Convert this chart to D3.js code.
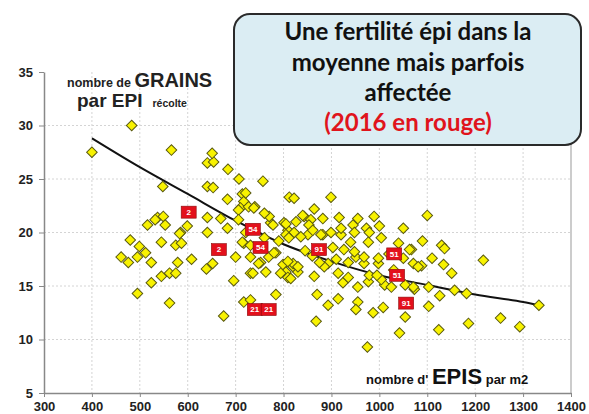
<!DOCTYPE html>
<html>
<head>
<meta charset="utf-8">
<script src="https://cdn.jsdelivr.net/npm/d3@7"></script>
<style>
  body { margin: 0; background: #fff; }
  svg { display: block; font-family: "Liberation Sans", Arial, sans-serif; }
</style>
</head>
<body>
<div class="chart"></div>
<script>
// data
const xTicks = [300, 400, 500, 600, 700, 800, 900, 1000, 1100, 1200, 1300, 1400];
const yTicks = [5, 10, 15, 20, 25, 30, 35];

// yellow diamonds: [epis par m2, grains par epi]
const pointsOther = [
  [400,27.5],[483,30.0],[566,27.7],[548,24.3],
  [641,26.5],[654,26.6],[651,27.4],[684,25.9],[707,25.0],[757,24.8],
  [641,24.3],[653,24.2],[683,23.1],[714,23.6],[717,22.9],[710,22.3],[727,22.4],[740,22.4],[706,22.1],
  [812,23.3],[822,23.2],[899,23.3],
  [537,21.4],[549,21.5],[516,20.7],[532,21.2],[553,20.7],[599,20.6],[585,20.0],[641,21.4],[669,21.3],[683,20.4],[706,21.2],[641,20.0],
  [480,19.3],[499,18.7],[461,17.7],[476,17.2],[495,17.7],[512,18.1],[524,17.2],[545,19.1],[575,18.8],[587,19.0],[583,19.9],
  [579,17.2],[608,17.5],[545,15.9],[562,16.2],[575,16.2],[524,15.3],[495,14.3],[562,13.4],[639,16.6],[652,17.1],[700,17.7],
  [696,15.5],[675,12.2],[717,19.0],[717,13.5],
  [721,20.0],[714,19.1],[731,18.8],[773,20.9],[784,18.1],[769,17.7],[731,17.7],[752,17.2],[731,16.2],[763,16.3],[799,17.0],
  [805,16.3],[820,16.8],[830,16.3],[809,20.2],[822,20.0],[731,13.7],[784,14.2],
  [721,23.7],[738,22.3],[864,22.2],[843,21.5],[882,21.3],[916,21.4],[955,21.3],[989,21.5],[1050,20.4],[778,20.7],[801,20.9],
  [826,21.0],[857,21.2],[1100,21.6],
  [805,19.8],[851,19.8],[882,19.8],[920,19.8],[977,19.1],[1004,19.5],[780,18.1],[748,17.1],[794,16.2],[820,17.1],[809,15.8],
  [736,16.2],[893,17.1],[914,16.2],[935,17.2],[951,17.7],[968,17.1],[998,17.1],[924,15.3],[955,14.9],[977,15.4],[1011,15.1],
  [870,14.2],[914,13.8],[893,13.2],[955,13.5],[951,12.8],[987,12.5],[1008,13.0],[868,11.7],[1042,10.6],[975,9.3],
  [1067,18.4],[1071,17.1],[1088,16.9],[1130,18.8],[1136,18.5],[1217,17.4],[1134,17.0],[1151,16.2],[1054,15.1],[1073,14.7],
  [1157,14.6],[1182,14.3],[1126,14.1],[1103,13.1],[1054,12.1],[1333,13.2],[1186,11.5],[1253,12.0],[1293,11.2],[1124,10.9],
  [840,21.6],[805,20.8],[853,20.7],[920,20.4],[945,20.7],[973,20.4],[979,20.0],[948,20.0],[899,20.0],[878,19.8],[861,20.2],
  [811,19.5],[836,19.6],[903,18.6],[926,18.4],[948,18.2],[968,17.7],[998,17.6],[1063,18.4],[1050,17.6],[1081,16.8],[809,17.3],
  [830,16.8],[885,16.8],[935,15.8],[979,16.0],[1004,15.6],[1025,14.9],[1071,14.9],[1103,14.9],[864,15.9],[815,15.7],
  [760,19.5],[790,19.2],[845,18.3],[860,17.8],[875,17.2],[910,17.5],[1020,18.0],[1030,16.5],[1090,19.2],[1110,17.6],
  [1000,20.6],[1040,19.0],[995,16.0],[940,19.1],[770,21.5],[760,21.8]
];

// 2016 in red: [epis, grains, label]
const points2016 = [
  [602,21.9,'2'],[665,18.4,'2'],[736,20.3,'54'],[752,18.6,'54'],[740,12.8,'21'],[769,12.8,'21'],
  [874,18.4,'91'],[1031,18.0,'51'],[1037,16.0,'51'],[1056,13.4,'91']
];

// trend curve
const trend = [
  [400,28.8],[500,26.1],[600,23.6],[700,21.1],[800,18.9],[900,17.3],[1000,16.0],
  [1100,15.1],[1200,14.2],[1300,13.5],[1333,13.2]
];

const titleLines = ['Une fertilité épi dans la', 'moyenne mais parfois', 'affectée'];
const titleRed = '(2016 en rouge)';

const width = 589, height = 414;

const svg = d3.select('.chart').append('svg')
              .attr('width', width)
              .attr('height', height);

const x = d3.scaleLinear().domain([300, 1400]).range([44, 571]);
const y = d3.scaleLinear().domain([5, 35]).range([393, 72]);

// grid
svg.append('g')
   .selectAll('line')
   .data(xTicks.slice(1, -1))
   .join('line')
   .attr('x1', d => x(d)).attr('x2', d => x(d))
   .attr('y1', y(35)).attr('y2', y(5))
   .attr('stroke', '#d4d4d4')
   .attr('stroke-dasharray', '2,2');

svg.append('g')
   .selectAll('line')
   .data(yTicks.slice(1, -1))
   .join('line')
   .attr('x1', x(300)).attr('x2', x(1400))
   .attr('y1', d => y(d)).attr('y2', d => y(d))
   .attr('stroke', '#d4d4d4')
   .attr('stroke-dasharray', '2,2');

// right frame
svg.append('line')
   .attr('x1', x(1400)).attr('x2', x(1400))
   .attr('y1', y(35)).attr('y2', y(5))
   .attr('stroke', '#999');

// axes
const yAxis = svg.append('g')
   .attr('transform', `translate(${x(300)},0)`)
   .call(d3.axisLeft(y).tickValues(yTicks).tickSize(5).tickPadding(6).tickSizeOuter(0));

const xAxis = svg.append('g')
   .attr('transform', `translate(0,${y(5)})`)
   .call(d3.axisBottom(x).tickValues(xTicks).tickFormat(d3.format('d'))
           .tickSize(4).tickPadding(5).tickSizeOuter(0));

[xAxis, yAxis].forEach(a => {
  a.select('.domain').attr('stroke', '#888').attr('stroke-width', 1.5);
  a.selectAll('.tick line').attr('stroke', '#888');
  a.selectAll('text')
   .attr('font-family', '"Liberation Sans", Arial, sans-serif')
   .attr('font-size', 13)
   .attr('font-weight', 'bold')
   .attr('fill', '#222');
});

// trend line
svg.append('path')
   .datum(trend)
   .attr('fill', 'none')
   .attr('stroke', '#111')
   .attr('stroke-width', 2)
   .attr('d', d3.line().x(d => x(d[0])).y(d => y(d[1])).curve(d3.curveMonotoneX));

// yellow diamonds
svg.append('g')
   .selectAll('path')
   .data(pointsOther)
   .join('path')
   .attr('d', d3.symbol(d3.symbolSquare, 56))
   .attr('transform', d => `translate(${x(d[0])},${y(d[1])}) rotate(45)`)
   .attr('fill', '#f8f200')
   .attr('stroke', '#5a5a10')
   .attr('stroke-width', 1);

// red 2016 labels
const red = svg.append('g')
   .selectAll('g')
   .data(points2016)
   .join('g')
   .attr('transform', d => `translate(${x(d[0])},${y(d[1])})`);

red.append('rect')
   .attr('x', -7.5).attr('y', -6)
   .attr('width', 15).attr('height', 12)
   .attr('fill', '#e3101c')
   .attr('stroke', '#8a0a0a')
   .attr('stroke-width', 0.6);

red.append('text')
   .attr('text-anchor', 'middle')
   .attr('dy', '0.35em')
   .attr('font-size', 8)
   .attr('font-weight', 'bold')
   .attr('fill', '#fff')
   .text(d => d[2]);

// axis titles
const yTitle = svg.append('text')
   .attr('x', 67).attr('y', 87)
   .attr('font-weight', 'bold')
   .attr('fill', '#222');
yTitle.append('tspan').attr('font-size', 12.5).text('nombre de ');
yTitle.append('tspan').attr('font-size', 20).text('GRAINS');

const yTitle2 = svg.append('text')
   .attr('x', 77).attr('y', 107)
   .attr('font-weight', 'bold')
   .attr('fill', '#222');
yTitle2.append('tspan').attr('font-size', 19).text('par EPI');
yTitle2.append('tspan').attr('font-size', 10.5).attr('dx', 10).text('récolte');

const xTitle = svg.append('text')
   .attr('x', 366).attr('y', 384)
   .attr('font-weight', 'bold')
   .attr('fill', '#111');
xTitle.append('tspan').attr('font-size', 13).text("nombre d' ");
xTitle.append('tspan').attr('font-size', 22).text('EPIS');
xTitle.append('tspan').attr('font-size', 13).text(' par m2');

// title box
const box = svg.append('g');
box.append('rect')
   .attr('x', 234).attr('y', 14)
   .attr('width', 347).attr('height', 131)
   .attr('rx', 16)
   .attr('fill', '#dbedf3')
   .attr('stroke', '#2a2a2a')
   .attr('stroke-width', 2);

box.selectAll('text.line')
   .data(titleLines)
   .join('text')
   .attr('class', 'line')
   .attr('x', 408)
   .attr('y', (d, i) => 40 + i * 30.5)
   .attr('text-anchor', 'middle')
   .attr('font-family', 'Lato, "Open Sans", sans-serif')
   .attr('font-weight', 'bold')
   .attr('font-size', 24)
   .attr('fill', '#111')
   .text(d => d);

box.append('text')
   .attr('x', 408).attr('y', 131)
   .attr('text-anchor', 'middle')
   .attr('font-family', 'Lato, "Open Sans", sans-serif')
   .attr('font-weight', 'bold')
   .attr('font-size', 24)
   .attr('fill', '#e0141c')
   .text(titleRed);
</script>
</body>
</html>
